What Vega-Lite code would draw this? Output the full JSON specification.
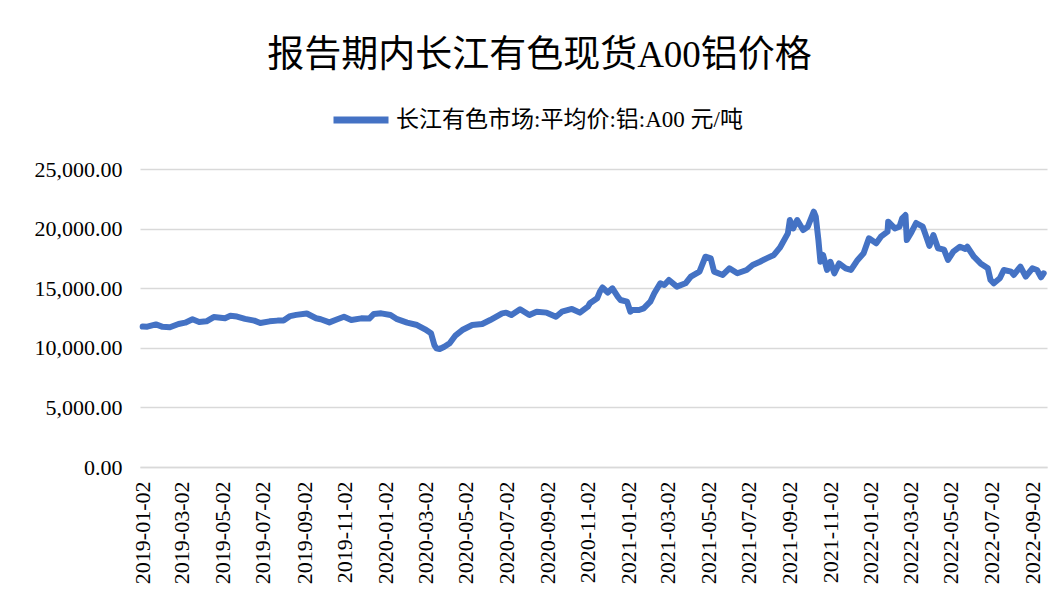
{
  "$schema": "https://vega.github.io/schema/vega-lite/v6.json",
  "width": 907,
  "height": 298,
  "autosize": {"type": "none"},
  "padding": {"left": 140, "top": 169, "right": 12, "bottom": 139},
  "background": "white",
  "title": {
    "text": "报告期内长江有色现货A00铝价格",
    "font": "Liberation Serif, Noto Sans CJK SC",
    "fontSize": 37,
    "fontWeight": "normal",
    "color": "#000000",
    "anchor": "middle",
    "dx": -54,
    "offset": 14
  },
  "config": {
    "view": {"stroke": null},
    "font": "Liberation Serif, Noto Sans CJK SC"
  },
  "data": {
    "values": [
      {"date": "2019-01-02", "price": 11780},
      {"date": "2019-01-09", "price": 11770},
      {"date": "2019-01-22", "price": 11960},
      {"date": "2019-02-01", "price": 11760},
      {"date": "2019-02-12", "price": 11720},
      {"date": "2019-02-25", "price": 12000},
      {"date": "2019-03-07", "price": 12110},
      {"date": "2019-03-18", "price": 12390},
      {"date": "2019-03-28", "price": 12170},
      {"date": "2019-04-08", "price": 12220},
      {"date": "2019-04-19", "price": 12580},
      {"date": "2019-05-06", "price": 12480},
      {"date": "2019-05-14", "price": 12680},
      {"date": "2019-05-24", "price": 12620},
      {"date": "2019-06-05", "price": 12430},
      {"date": "2019-06-19", "price": 12280},
      {"date": "2019-06-28", "price": 12080},
      {"date": "2019-07-12", "price": 12220},
      {"date": "2019-07-24", "price": 12280},
      {"date": "2019-08-02", "price": 12290},
      {"date": "2019-08-12", "price": 12660},
      {"date": "2019-08-21", "price": 12760},
      {"date": "2019-09-06", "price": 12880},
      {"date": "2019-09-20", "price": 12480},
      {"date": "2019-09-27", "price": 12400},
      {"date": "2019-10-10", "price": 12130},
      {"date": "2019-10-22", "price": 12390},
      {"date": "2019-11-01", "price": 12600},
      {"date": "2019-11-12", "price": 12330},
      {"date": "2019-11-27", "price": 12470},
      {"date": "2019-12-09", "price": 12450},
      {"date": "2019-12-16", "price": 12840},
      {"date": "2019-12-27", "price": 12890},
      {"date": "2020-01-10", "price": 12750},
      {"date": "2020-01-20", "price": 12400},
      {"date": "2020-02-04", "price": 12110},
      {"date": "2020-02-19", "price": 11910},
      {"date": "2020-03-02", "price": 11550},
      {"date": "2020-03-11", "price": 11220},
      {"date": "2020-03-16", "price": 10230},
      {"date": "2020-03-19", "price": 9960},
      {"date": "2020-03-24", "price": 9900},
      {"date": "2020-03-31", "price": 10090},
      {"date": "2020-04-08", "price": 10380},
      {"date": "2020-04-17", "price": 11050},
      {"date": "2020-04-27", "price": 11490},
      {"date": "2020-05-12", "price": 11910},
      {"date": "2020-05-27", "price": 12000},
      {"date": "2020-06-08", "price": 12330},
      {"date": "2020-06-26", "price": 12890},
      {"date": "2020-07-02", "price": 12950},
      {"date": "2020-07-10", "price": 12750},
      {"date": "2020-07-23", "price": 13230},
      {"date": "2020-08-06", "price": 12750},
      {"date": "2020-08-17", "price": 13030},
      {"date": "2020-09-01", "price": 12950},
      {"date": "2020-09-15", "price": 12610},
      {"date": "2020-09-24", "price": 13030},
      {"date": "2020-10-09", "price": 13260},
      {"date": "2020-10-21", "price": 12950},
      {"date": "2020-11-02", "price": 13450},
      {"date": "2020-11-05", "price": 13730},
      {"date": "2020-11-16", "price": 14150},
      {"date": "2020-11-20", "price": 14700},
      {"date": "2020-11-24", "price": 15060},
      {"date": "2020-12-02", "price": 14640},
      {"date": "2020-12-09", "price": 14990},
      {"date": "2020-12-17", "price": 14290},
      {"date": "2020-12-21", "price": 14010},
      {"date": "2020-12-31", "price": 13870},
      {"date": "2021-01-05", "price": 13030},
      {"date": "2021-01-08", "price": 13170},
      {"date": "2021-01-18", "price": 13170},
      {"date": "2021-01-25", "price": 13310},
      {"date": "2021-02-04", "price": 13870},
      {"date": "2021-02-10", "price": 14570},
      {"date": "2021-02-19", "price": 15410},
      {"date": "2021-02-25", "price": 15270},
      {"date": "2021-03-04", "price": 15690},
      {"date": "2021-03-16", "price": 15130},
      {"date": "2021-03-29", "price": 15410},
      {"date": "2021-04-06", "price": 15970},
      {"date": "2021-04-19", "price": 16390},
      {"date": "2021-04-28", "price": 17640},
      {"date": "2021-05-06", "price": 17500},
      {"date": "2021-05-11", "price": 16390},
      {"date": "2021-05-24", "price": 16110},
      {"date": "2021-06-03", "price": 16670},
      {"date": "2021-06-15", "price": 16250},
      {"date": "2021-06-29", "price": 16530},
      {"date": "2021-07-08", "price": 16950},
      {"date": "2021-07-19", "price": 17220},
      {"date": "2021-07-29", "price": 17500},
      {"date": "2021-08-09", "price": 17790},
      {"date": "2021-08-18", "price": 18400},
      {"date": "2021-08-30", "price": 19600},
      {"date": "2021-09-02", "price": 20720},
      {"date": "2021-09-07", "price": 20020},
      {"date": "2021-09-13", "price": 20720},
      {"date": "2021-09-22", "price": 19880},
      {"date": "2021-09-29", "price": 20160},
      {"date": "2021-10-08", "price": 21420},
      {"date": "2021-10-11", "price": 21000},
      {"date": "2021-10-15", "price": 19040},
      {"date": "2021-10-18", "price": 17220},
      {"date": "2021-10-22", "price": 17790},
      {"date": "2021-10-28", "price": 16530},
      {"date": "2021-11-02", "price": 17220},
      {"date": "2021-11-08", "price": 16250},
      {"date": "2021-11-15", "price": 17080},
      {"date": "2021-11-25", "price": 16670},
      {"date": "2021-12-03", "price": 16530},
      {"date": "2021-12-13", "price": 17370},
      {"date": "2021-12-22", "price": 17930},
      {"date": "2021-12-30", "price": 19190},
      {"date": "2022-01-10", "price": 18770},
      {"date": "2022-01-17", "price": 19320},
      {"date": "2022-01-27", "price": 19740},
      {"date": "2022-01-28", "price": 20580},
      {"date": "2022-02-07", "price": 20020},
      {"date": "2022-02-14", "price": 20160},
      {"date": "2022-02-18", "price": 20860},
      {"date": "2022-02-23", "price": 21140},
      {"date": "2022-02-25", "price": 19040},
      {"date": "2022-03-04", "price": 19700},
      {"date": "2022-03-11", "price": 20470},
      {"date": "2022-03-21", "price": 20160},
      {"date": "2022-03-25", "price": 19530},
      {"date": "2022-03-31", "price": 18550},
      {"date": "2022-04-06", "price": 19460},
      {"date": "2022-04-13", "price": 18350},
      {"date": "2022-04-22", "price": 18230},
      {"date": "2022-04-28", "price": 17370},
      {"date": "2022-05-06", "price": 18060},
      {"date": "2022-05-16", "price": 18480},
      {"date": "2022-05-24", "price": 18300},
      {"date": "2022-05-27", "price": 18480},
      {"date": "2022-06-06", "price": 17640},
      {"date": "2022-06-16", "price": 17080},
      {"date": "2022-06-27", "price": 16670},
      {"date": "2022-07-01", "price": 15690},
      {"date": "2022-07-06", "price": 15410},
      {"date": "2022-07-15", "price": 15830},
      {"date": "2022-07-21", "price": 16530},
      {"date": "2022-08-01", "price": 16390},
      {"date": "2022-08-05", "price": 16110},
      {"date": "2022-08-15", "price": 16810},
      {"date": "2022-08-23", "price": 15970},
      {"date": "2022-09-02", "price": 16670},
      {"date": "2022-09-09", "price": 16530},
      {"date": "2022-09-15", "price": 15920},
      {"date": "2022-09-19", "price": 16250}
    ]
  },
  "mark": {"type": "line", "strokeWidth": 6, "strokeCap": "round", "strokeJoin": "round"},
  "encoding": {
    "x": {
      "field": "date",
      "type": "temporal",
      "title": null,
      "scale": {
        "type": "utc",
        "domain": [
          {"year": 2018, "month": 12, "date": 29, "utc": true},
          {"year": 2022, "month": 9, "date": 24, "utc": true}
        ]
      },
      "axis": {
        "values": [
          {"year": 2019, "month": 1, "date": 2, "utc": true},
          {"year": 2019, "month": 3, "date": 2, "utc": true},
          {"year": 2019, "month": 5, "date": 2, "utc": true},
          {"year": 2019, "month": 7, "date": 2, "utc": true},
          {"year": 2019, "month": 9, "date": 2, "utc": true},
          {"year": 2019, "month": 11, "date": 2, "utc": true},
          {"year": 2020, "month": 1, "date": 2, "utc": true},
          {"year": 2020, "month": 3, "date": 2, "utc": true},
          {"year": 2020, "month": 5, "date": 2, "utc": true},
          {"year": 2020, "month": 7, "date": 2, "utc": true},
          {"year": 2020, "month": 9, "date": 2, "utc": true},
          {"year": 2020, "month": 11, "date": 2, "utc": true},
          {"year": 2021, "month": 1, "date": 2, "utc": true},
          {"year": 2021, "month": 3, "date": 2, "utc": true},
          {"year": 2021, "month": 5, "date": 2, "utc": true},
          {"year": 2021, "month": 7, "date": 2, "utc": true},
          {"year": 2021, "month": 9, "date": 2, "utc": true},
          {"year": 2021, "month": 11, "date": 2, "utc": true},
          {"year": 2022, "month": 1, "date": 2, "utc": true},
          {"year": 2022, "month": 3, "date": 2, "utc": true},
          {"year": 2022, "month": 5, "date": 2, "utc": true},
          {"year": 2022, "month": 7, "date": 2, "utc": true},
          {"year": 2022, "month": 9, "date": 2, "utc": true}
        ],
        "labelExpr": "utcFormat(datum.value, '%Y-%m-%d')",
        "labelAngle": -90,
        "labelAlign": "right",
        "labelBaseline": "middle",
        "labelFont": "Liberation Serif",
        "labelFontSize": 22,
        "labelColor": "#000000",
        "labelPadding": 14,
        "labelOverlap": false,
        "labelFlush": false,
        "grid": false,
        "ticks": false,
        "domain": true,
        "domainColor": "#d9d9d9",
        "domainWidth": 1.5
      }
    },
    "y": {
      "field": "price",
      "type": "quantitative",
      "title": null,
      "scale": {"domain": [0, 25000], "nice": false},
      "axis": {
        "values": [0, 5000, 10000, 15000, 20000, 25000],
        "format": ",.2f",
        "labelFont": "Liberation Serif",
        "labelFontSize": 22,
        "labelColor": "#000000",
        "labelPadding": 18,
        "ticks": false,
        "domain": false,
        "grid": true,
        "gridColor": "#d9d9d9",
        "gridWidth": 1.5
      }
    },
    "color": {
      "datum": "长江有色市场:平均价:铝:A00 元/吨",
      "scale": {"range": ["#4472C4"]},
      "legend": {
        "title": null,
        "orient": "none",
        "legendX": 190,
        "legendY": -80,
        "symbolType": "stroke",
        "symbolSize": 3025,
        "symbolStrokeWidth": 7,
        "labelFont": "Liberation Serif, Noto Sans CJK SC",
        "labelFontSize": 23,
        "labelColor": "#000000",
        "labelLimit": 600
      }
    }
  }
}
